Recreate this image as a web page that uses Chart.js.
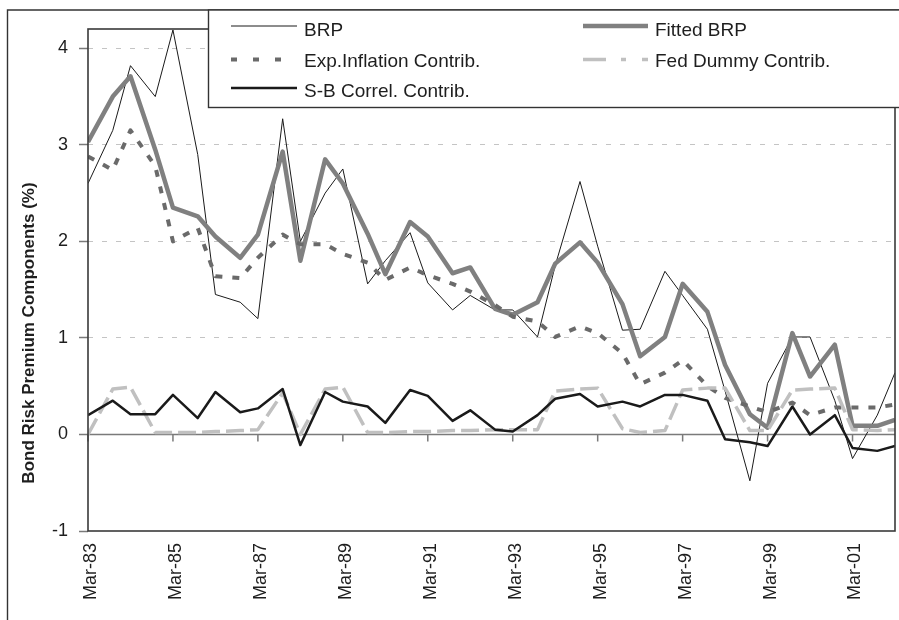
<!DOCTYPE html>
<html lang="en">
<head>
<meta charset="UTF-8">
<title>Bond Risk Premium Components</title>
<script src="https://cdn.jsdelivr.net/npm/chart.js"></script>
<style>
  body { margin: 0; background: #fff; }
  #wrap { position: relative; width: 899px; height: 620px; }
</style>
</head>
<body>
<div id="wrap"><canvas id="brp-chart"></canvas></div>
<script>
// observation dates (semiannual, March and October)
const dates = ['Mar-83','Oct-83','Mar-84','Oct-84','Mar-85','Oct-85','Mar-86','Oct-86','Mar-87','Oct-87',
               'Mar-88','Oct-88','Mar-89','Oct-89','Mar-90','Oct-90','Mar-91','Oct-91','Mar-92','Oct-92',
               'Mar-93','Oct-93','Mar-94','Oct-94','Mar-95','Oct-95','Mar-96','Oct-96','Mar-97','Oct-97',
               'Mar-98','Oct-98','Mar-99','Oct-99','Mar-00','Oct-00','Mar-01','Oct-01','Mar-02'];

const brp       = [2.60, 3.15, 3.82, 3.50, 4.19, 2.90, 1.45, 1.37, 1.20, 3.27,
                   2.00, 2.50, 2.75, 1.56, 1.80, 2.09, 1.57, 1.29, 1.44, 1.29,
                   1.29, 1.01, 1.75, 2.62, 1.95, 1.08, 1.09, 1.69, 1.44, 1.09,
                   0.45, -0.48, 0.53, 1.01, 1.01, 0.35, -0.25, 0.20, 0.64];
const fittedBrp = [3.03, 3.50, 3.71, 2.95, 2.35, 2.26, 2.05, 1.83, 2.07, 2.93,
                   1.80, 2.85, 2.60, 2.08, 1.66, 2.20, 2.05, 1.67, 1.73, 1.30,
                   1.24, 1.37, 1.77, 1.99, 1.78, 1.35, 0.81, 1.01, 1.56, 1.27,
                   0.72, 0.21, 0.07, 1.05, 0.60, 0.93, 0.09, 0.09, 0.15];
const expInfl   = [2.88, 2.74, 3.15, 2.78, 2.00, 2.14, 1.64, 1.62, 1.83, 2.07,
                   1.97, 1.97, 1.87, 1.78, 1.60, 1.73, 1.65, 1.56, 1.48, 1.34,
                   1.22, 1.17, 1.01, 1.12, 1.05, 0.84, 0.52, 0.64, 0.77, 0.50,
                   0.38, 0.29, 0.23, 0.33, 0.20, 0.28, 0.28, 0.28, 0.31];
const fedDummy  = [0.00, 0.47, 0.49, 0.02, 0.02, 0.02, 0.03, 0.04, 0.05, 0.43,
                   0.00, 0.47, 0.49, 0.02, 0.02, 0.03, 0.03, 0.04, 0.04, 0.05,
                   0.05, 0.05, 0.45, 0.47, 0.48, 0.06, 0.02, 0.04, 0.46, 0.48,
                   0.48, 0.04, 0.04, 0.46, 0.47, 0.48, 0.05, 0.04, 0.05];
const sbCorrel  = [0.20, 0.35, 0.21, 0.21, 0.41, 0.17, 0.44, 0.23, 0.27, 0.47,
                   -0.11, 0.44, 0.34, 0.29, 0.12, 0.46, 0.40, 0.14, 0.25, 0.05,
                   0.03, 0.20, 0.37, 0.42, 0.29, 0.34, 0.29, 0.41, 0.41, 0.35,
                   -0.05, -0.08, -0.12, 0.29, 0.00, 0.20, -0.14, -0.17, -0.12];

const tickLabels = ['Mar-83','Mar-85','Mar-87','Mar-89','Mar-91','Mar-93','Mar-95','Mar-97','Mar-99','Mar-01'];
const yTicks = [-1, 0, 1, 2, 3, 4];

const FONT = "'Liberation Sans', Arial, Helvetica, sans-serif";
const monthNames = ['Jan','Feb','Mar','Apr','May','Jun','Jul','Aug','Sep','Oct','Nov','Dec'];

// months elapsed since Mar-83
function toMonths(label) {
    const [m, y] = label.split('-');
    let yr = Number(y);
    if (yr < 50) yr += 100;
    return (yr - 83) * 12 + monthNames.indexOf(m) - 2;
}
const xs = dates.map(toMonths);
const pts = values => values.map((v, i) => ({ x: xs[i], y: v }));

// frames, zero axis, legend and axis title
const decor = {
    id: 'decor',
    beforeDatasetsDraw(chart) {
        const { ctx, chartArea: a, scales } = chart;
        const y0 = scales.y.getPixelForValue(0);
        ctx.save();
        ctx.strokeStyle = '#7a7a7a';
        ctx.lineWidth = 1.5;
        ctx.beginPath();
        ctx.moveTo(a.left, y0);
        ctx.lineTo(a.right, y0);
        scales.x.ticks.forEach(t => {
            const px = scales.x.getPixelForValue(t.value);
            ctx.moveTo(px, y0);
            ctx.lineTo(px, y0 + 7);
        });
        ctx.stroke();
        ctx.restore();
    },
    afterDraw(chart) {
        const { ctx, chartArea: a } = chart;
        ctx.save();
        // outer chart border
        ctx.strokeStyle = '#333';
        ctx.lineWidth = 1.4;
        ctx.beginPath();
        ctx.moveTo(7.5, 620);
        ctx.lineTo(7.5, 10);
        ctx.lineTo(899, 10);
        ctx.stroke();
        // plot area border
        ctx.strokeStyle = '#3a3a3a';
        ctx.lineWidth = 1.6;
        ctx.strokeRect(a.left, a.top, a.right - a.left, a.bottom - a.top);

        // legend box
        ctx.fillStyle = '#fff';
        ctx.fillRect(208.5, 10, 700, 97.5);
        ctx.strokeStyle = '#333';
        ctx.lineWidth = 1.4;
        ctx.strokeRect(208.5, 10, 700, 97.5);

        const cols = [{ x1: 231, x2: 297, tx: 304 }, { x1: 583, x2: 648, tx: 655 }];
        const rows = [{ ly: 26, ty: 35.5 }, { ly: 59.5, ty: 66.5 }, { ly: 88, ty: 97 }];
        ctx.font = '19px ' + FONT;
        ctx.textBaseline = 'alphabetic';
        chart.data.datasets.forEach((ds, i) => {
            const c = cols[i % 2], r = rows[Math.floor(i / 2)];
            ctx.strokeStyle = ds.borderColor;
            ctx.lineWidth = ds.borderWidth;
            ctx.setLineDash(ds.legendDash || []);
            ctx.beginPath();
            ctx.moveTo(c.x1, r.ly);
            ctx.lineTo(c.x2, r.ly);
            ctx.stroke();
            ctx.setLineDash([]);
            ctx.fillStyle = '#1e1e1e';
            ctx.fillText(ds.label, c.tx, r.ty);
        });

        // y axis title
        ctx.translate(29, 333);
        ctx.rotate(-Math.PI / 2);
        ctx.font = 'bold 17px ' + FONT;
        ctx.textAlign = 'center';
        ctx.textBaseline = 'middle';
        ctx.fillStyle = '#1e1e1e';
        ctx.fillText('Bond Risk Premium Components (%)', 0, 0);
        ctx.restore();
    }
};

const ctx = document.getElementById('brp-chart').getContext('2d');
new Chart(ctx, {
    type: 'line',
    data: {
        datasets: [
            { label: 'BRP', data: pts(brp), borderColor: '#1a1a1a', borderWidth: 1, order: 5 },
            { label: 'Fitted BRP', data: pts(fittedBrp), borderColor: '#808080', borderWidth: 4.5, order: 4 },
            { label: 'Exp.Inflation Contrib.', data: pts(expInfl), borderColor: '#6a6a6a', borderWidth: 4,
              borderDash: [7, 10], legendDash: [6, 16], order: 3 },
            { label: 'Fed Dummy Contrib.', data: pts(fedDummy), borderColor: '#c0c0c0', borderWidth: 3.5,
              borderDash: [18, 6], legendDash: [23, 15, 5, 16], order: 2 },
            { label: 'S-B Correl. Contrib.', data: pts(sbCorrel), borderColor: '#1a1a1a', borderWidth: 2.5, order: 1 }
        ]
    },
    options: {
        responsive: true,
        maintainAspectRatio: false,
        animation: false,
        events: [],
        layout: { padding: { left: 0, top: 29, right: 4, bottom: 0 } },
        elements: {
            point: { radius: 0 },
            line: { tension: 0, borderJoinStyle: 'round', fill: false }
        },
        plugins: {
            legend: { display: false },
            tooltip: { enabled: false }
        },
        scales: {
            x: {
                type: 'linear',
                min: 0,
                max: 228,
                afterBuildTicks: axis => { axis.ticks = tickLabels.map(l => ({ value: toMonths(l) })); },
                afterFit: axis => { axis.height = 89; axis.paddingLeft = 0; axis.paddingRight = 0; },
                grid: { display: false, drawTicks: false },
                border: { display: false },
                ticks: {
                    autoSkip: false,
                    minRotation: 90,
                    maxRotation: 90,
                    padding: 12,
                    labelOffset: 3,
                    color: '#1e1e1e',
                    font: { size: 18, family: FONT },
                    callback: (v, i) => tickLabels[i]
                }
            },
            y: {
                min: -1,
                max: 4.2,
                afterBuildTicks: axis => { axis.ticks = yTicks.map(v => ({ value: v })); },
                afterFit: axis => { axis.width = 88; axis.paddingTop = 0; axis.paddingBottom = 0; },
                grid: {
                    color: c => (c.tick && c.tick.value > 0) ? '#c4c4c4' : 'rgba(0,0,0,0)',
                    lineWidth: 1,
                    tickColor: '#7a7a7a',
                    tickWidth: 1.5,
                    tickLength: 9,
                    tickBorderDash: []
                },
                border: { display: false, dash: [5, 9] },
                ticks: {
                    color: '#1e1e1e',
                    padding: 11,
                    font: { size: 18, family: FONT }
                }
            }
        }
    },
    plugins: [decor]
});
</script>
</body>
</html>
